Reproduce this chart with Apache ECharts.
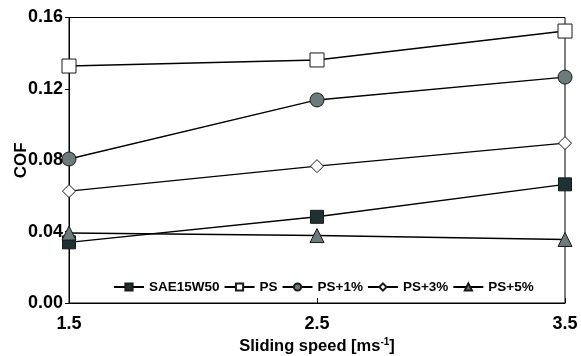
<!DOCTYPE html>
<html><head><meta charset="utf-8">
<script src="https://cdn.jsdelivr.net/npm/echarts@6/dist/echarts.min.js"></script>
<style>html,body{margin:0;padding:0;background:#fff}#c{width:581px;height:356px}</style>
</head><body><div id="c"></div>
<script>
const categories = ['1.5', '2.5', '3.5'];
const seriesNames = ['SAE15W50', 'PS', 'PS+1%', 'PS+3%', 'PS+5%'];
const sae15w50 = [0.034, 0.0483, 0.0665];
const ps = [0.1328, 0.1362, 0.1524];
const ps1 = [0.0807, 0.1138, 0.1266];
const ps3 = [0.0627, 0.0767, 0.0896];
const ps5 = [0.0392, 0.0378, 0.0356];
const yTicks = [0, 0.04, 0.08, 0.12, 0.16];

const font = 'Liberation Sans, Arial, sans-serif';
function mk(name, data, symbol, size, fill) {
  return {
    name: name, type: 'line', data: data, symbol: symbol, symbolSize: size,
    lineStyle: { color: '#000', width: 1.4 },
    itemStyle: { color: fill, borderColor: '#1a1a1a', borderWidth: 1 },
    emphasis: { disabled: true }, z: 3
  };
}
const chart = echarts.init(document.getElementById('c'));
chart.setOption({
  animation: false,
  backgroundColor: '#fff',
  grid: { left: 69, right: 16, top: 17.5, bottom: 53, show: true, borderColor: '#000', borderWidth: 1,
          containLabel: false, outerBoundsMode: 'none' },
  legend: {
    left: 108, top: 275, itemWidth: 30, itemHeight: 9, itemGap: 4,
    data: seriesNames,
    textStyle: { fontFamily: font, fontWeight: 'bold', fontSize: 13.5, color: '#000' }
  },
  xAxis: {
    type: 'category', data: categories, boundaryGap: false,
    name: 'Sliding speed [ms{sup|-1}]', nameLocation: 'middle', nameGap: 34, nameMoveOverlap: false,
    nameTextStyle: {
      fontFamily: font, fontWeight: 'bold', fontSize: 16.5, color: '#000',
      rich: { sup: { fontFamily: font, fontWeight: 'bold', fontSize: 10, color: '#000', padding: [0, 0, 8, 0] } }
    },
    axisLine: { lineStyle: { color: '#000', width: 1 } },
    axisTick: { inside: true, length: 5, lineStyle: { color: '#000' } },
    axisLabel: { fontFamily: font, fontWeight: 'bold', fontSize: 18, color: '#000', margin: 12 },
    splitLine: { show: false }
  },
  yAxis: {
    type: 'value', min: yTicks[0], max: yTicks[yTicks.length - 1], interval: 0.04,
    name: 'COF', nameLocation: 'middle', nameGap: 39, nameRotate: 90, nameMoveOverlap: false,
    nameTextStyle: { fontFamily: font, fontWeight: 'bold', fontSize: 17, color: '#000' },
    axisLine: { show: true, lineStyle: { color: '#000', width: 1 } },
    axisTick: { show: true, inside: false, length: 4, lineStyle: { color: '#000' } },
    axisLabel: { fontFamily: font, fontWeight: 'bold', fontSize: 18, color: '#000', margin: 6, formatter: v => v.toFixed(2) },
    splitLine: { show: false }
  },
  series: [
    mk(seriesNames[0], sae15w50, 'rect', 13, '#1f3233'),
    mk(seriesNames[1], ps, 'rect', 14, '#fff'),
    mk(seriesNames[2], ps1, 'circle', 14, '#6b7b7b'),
    mk(seriesNames[3], ps3, 'diamond', 13, '#fff'),
    mk(seriesNames[4], ps5, 'triangle', 14, '#6b7b7b')
  ]
});
</script></body></html>
